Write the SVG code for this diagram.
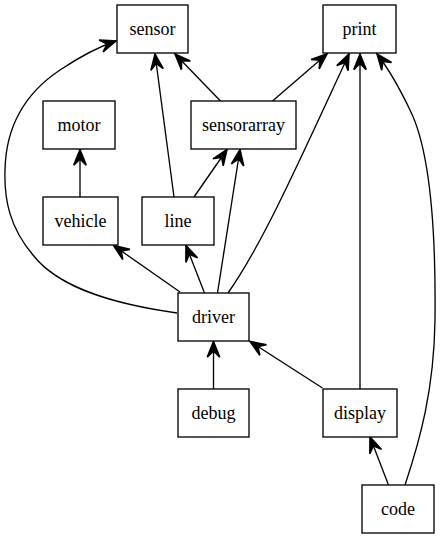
<svg xmlns="http://www.w3.org/2000/svg" width="440" height="539" viewBox="0 0 440 539">
<style>
.n rect{fill:#fff;stroke:#000;stroke-width:1.33}
.n text{font-family:'Liberation Serif','Times New Roman',serif;font-size:18px;text-anchor:middle;fill:#000}
.e path{fill:none;stroke:#000;stroke-width:1.33;marker-end:url(#vee)}
</style>
<defs>
<marker id="vee" markerUnits="userSpaceOnUse" markerWidth="20" markerHeight="20" viewBox="-15 -8 17 16" refX="0" refY="0" orient="auto" overflow="visible">
<polygon points="-13.3,-5.3 0,0 -13.3,5.3 -8,0" fill="#000" stroke="#000" stroke-width="1.33" stroke-linejoin="miter"/>
</marker>
</defs>
<rect width="440" height="539" fill="#fff"/>
<g id="connectors" class="e">
<path d="M177,313 C120,305 60,290 33,255 C10,228 4,200 5,170 C6,120 30,90 60,70 C78,58 95,48 116,41"/>
<path d="M174,197 L155,54"/>
<path d="M220.5,101 L175,54"/>
<path d="M272.5,101 L327,54"/>
<path d="M228,293 C262,245 300,160 349,54"/>
<path d="M360,389 L360,54"/>
<path d="M405,485 C420,440 434,390 435,320 C436,230 430,150 410,110 C398,85 388,68 377,54"/>
<path d="M80,197 L80,149.5"/>
<path d="M194,197 L227,149.5"/>
<path d="M217.5,293 L240,149.5"/>
<path d="M180,292 L113.5,245.5"/>
<path d="M204.5,293 L186,245.5"/>
<path d="M213.5,389 L213.5,341.5"/>
<path d="M322.5,388 L250,341.5"/>
<path d="M388.5,485 L370,437"/>
</g>
<g id="sensor" class="n"><rect x="117" y="5" width="71" height="48"/><text x="152.5" y="34.5" font-family="Liberation Serif, serif">sensor</text></g>
<g id="print" class="n"><rect x="323" y="5" width="73" height="48"/><text x="359.5" y="34.5" font-family="Liberation Serif, serif">print</text></g>
<g id="motor" class="n"><rect x="43" y="101" width="72" height="48"/><text x="79" y="130.5" font-family="Liberation Serif, serif">motor</text></g>
<g id="sensorarray" class="n"><rect x="191" y="101" width="105" height="48"/><text x="243.5" y="130.5" font-family="Liberation Serif, serif">sensorarray</text></g>
<g id="vehicle" class="n"><rect x="43" y="197" width="75" height="48"/><text x="80.5" y="226.5" font-family="Liberation Serif, serif">vehicle</text></g>
<g id="line" class="n"><rect x="142" y="197" width="72" height="48"/><text x="178" y="226.5" font-family="Liberation Serif, serif">line</text></g>
<g id="driver" class="n"><rect x="178" y="293" width="71" height="48"/><text x="213.5" y="322.5" font-family="Liberation Serif, serif">driver</text></g>
<g id="debug" class="n"><rect x="178" y="389" width="71" height="48"/><text x="213.5" y="418.5" font-family="Liberation Serif, serif">debug</text></g>
<g id="display" class="n"><rect x="323" y="389" width="74" height="48"/><text x="360" y="418.5" font-family="Liberation Serif, serif">display</text></g>
<g id="code" class="n"><rect x="362" y="485" width="72" height="48"/><text x="398" y="514.5" font-family="Liberation Serif, serif">code</text></g>
</svg>
